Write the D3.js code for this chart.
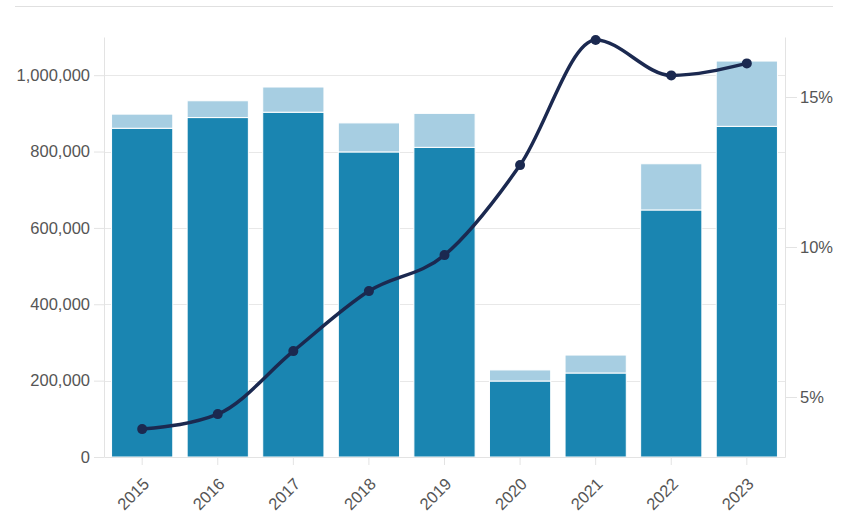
<!DOCTYPE html>
<html>
<head>
<meta charset="utf-8">
<script src="https://cdn.jsdelivr.net/npm/d3@7"></script>
<style>
  body { margin: 0; background: #fff; }
  svg { display: block; font-family: Lato, "Noto Sans", sans-serif; }
  .axis text { fill: #555; font-size: 16.5px; }
  .axis path, .axis line { stroke: #e3e3e3; }
</style>
</head>
<body>
<svg id="chart" width="845" height="523"></svg>
<script>
var years = ["2015", "2016", "2017", "2018", "2019", "2020", "2021", "2022", "2023"];
var lowerVals = [861000, 889000, 903000, 799000, 811000, 199000, 220000, 647000, 866000];
var totalVals = [898000, 933000, 969000, 875000, 900000, 228000, 267000, 768000, 1037000];
var rateVals = [3.93, 4.43, 6.53, 8.53, 9.73, 12.73, 16.9, 15.72, 16.12];
var leftTicks = [0, 200000, 400000, 600000, 800000, 1000000];
var rightTicks = [5, 10, 15];

var width = 845, height = 523;
var margin = {top: 37, left: 104, bottom: 66, right: 60};

var svg = d3.select("#chart");

// thin rule at the very top
svg.append("line")
  .attr("x1", 15).attr("x2", 833)
  .attr("y1", 6.5).attr("y2", 6.5)
  .attr("stroke", "#e0e0e0");

var xScale = d3.scaleBand()
  .domain(years)
  .range([margin.left, width - margin.right])
  .paddingInner(0.19)
  .paddingOuter(0.1);

var yLeft = d3.scaleLinear()
  .domain([0, 1100000])
  .range([height - margin.bottom, margin.top]);

var yRight = d3.scaleLinear()
  .domain([3, 17])
  .range([height - margin.bottom, margin.top]);

// gridlines
svg.append("g")
  .selectAll("line")
  .data(leftTicks.slice(1))
  .enter().append("line")
    .attr("x1", margin.left).attr("x2", width - margin.right)
    .attr("y1", function(d) { return Math.round(yLeft(d)) + 0.5; })
    .attr("y2", function(d) { return Math.round(yLeft(d)) + 0.5; })
    .attr("stroke", "#e8e8e8");

// bars: lower part
svg.append("g")
  .selectAll("rect")
  .data(years)
  .enter().append("rect")
    .attr("x", function(d) { return xScale(d); })
    .attr("width", xScale.bandwidth())
    .attr("y", function(d, i) { return yLeft(lowerVals[i]); })
    .attr("height", function(d, i) { return yLeft(0) - yLeft(lowerVals[i]); })
    .attr("fill", "#1a85b1")
    .attr("stroke", "#fff")
    .attr("stroke-width", 1);

// bars: upper part
svg.append("g")
  .selectAll("rect")
  .data(years)
  .enter().append("rect")
    .attr("x", function(d) { return xScale(d); })
    .attr("width", xScale.bandwidth())
    .attr("y", function(d, i) { return yLeft(totalVals[i]); })
    .attr("height", function(d, i) { return yLeft(lowerVals[i]) - yLeft(totalVals[i]); })
    .attr("fill", "#a7cee2")
    .attr("stroke", "#fff")
    .attr("stroke-width", 1);

// axes
var xAxis = svg.append("g")
  .attr("class", "x axis")
  .attr("transform", "translate(0," + (height - margin.bottom) + ")")
  .call(d3.axisBottom(xScale).tickSize(8).tickSizeOuter(0));
xAxis.selectAll("text")
  .attr("text-anchor", "end")
  .attr("x", 0).attr("y", 0)
  .attr("dy", 0)
  .attr("transform", "translate(8,28) rotate(-45)");

svg.append("g")
  .attr("class", "y axis")
  .attr("transform", "translate(" + margin.left + ",0)")
  .call(d3.axisLeft(yLeft).tickValues(leftTicks).tickFormat(d3.format(",")).tickSize(10).tickPadding(4).tickSizeOuter(0));

svg.append("g")
  .attr("class", "y1 axis")
  .attr("transform", "translate(" + (width - margin.right) + ",0)")
  .call(d3.axisRight(yRight).tickValues(rightTicks).tickFormat(function(d) { return d + "%"; }).tickSize(12).tickPadding(3).tickSizeOuter(0));

// rate line
var line = d3.line()
  .x(function(d, i) { return xScale(years[i]) + xScale.bandwidth() / 2; })
  .y(function(d) { return yRight(d); })
  .curve(d3.curveMonotoneX);

svg.append("path")
  .datum(rateVals)
  .attr("fill", "none")
  .attr("stroke", "#1b2950")
  .attr("stroke-width", 3.5)
  .attr("stroke-linejoin", "round")
  .attr("d", line);

svg.append("g")
  .selectAll("circle")
  .data(rateVals)
  .enter().append("circle")
    .attr("cx", function(d, i) { return xScale(years[i]) + xScale.bandwidth() / 2; })
    .attr("cy", function(d) { return yRight(d); })
    .attr("r", 5)
    .attr("fill", "#1b2950");
</script>
</body>
</html>
